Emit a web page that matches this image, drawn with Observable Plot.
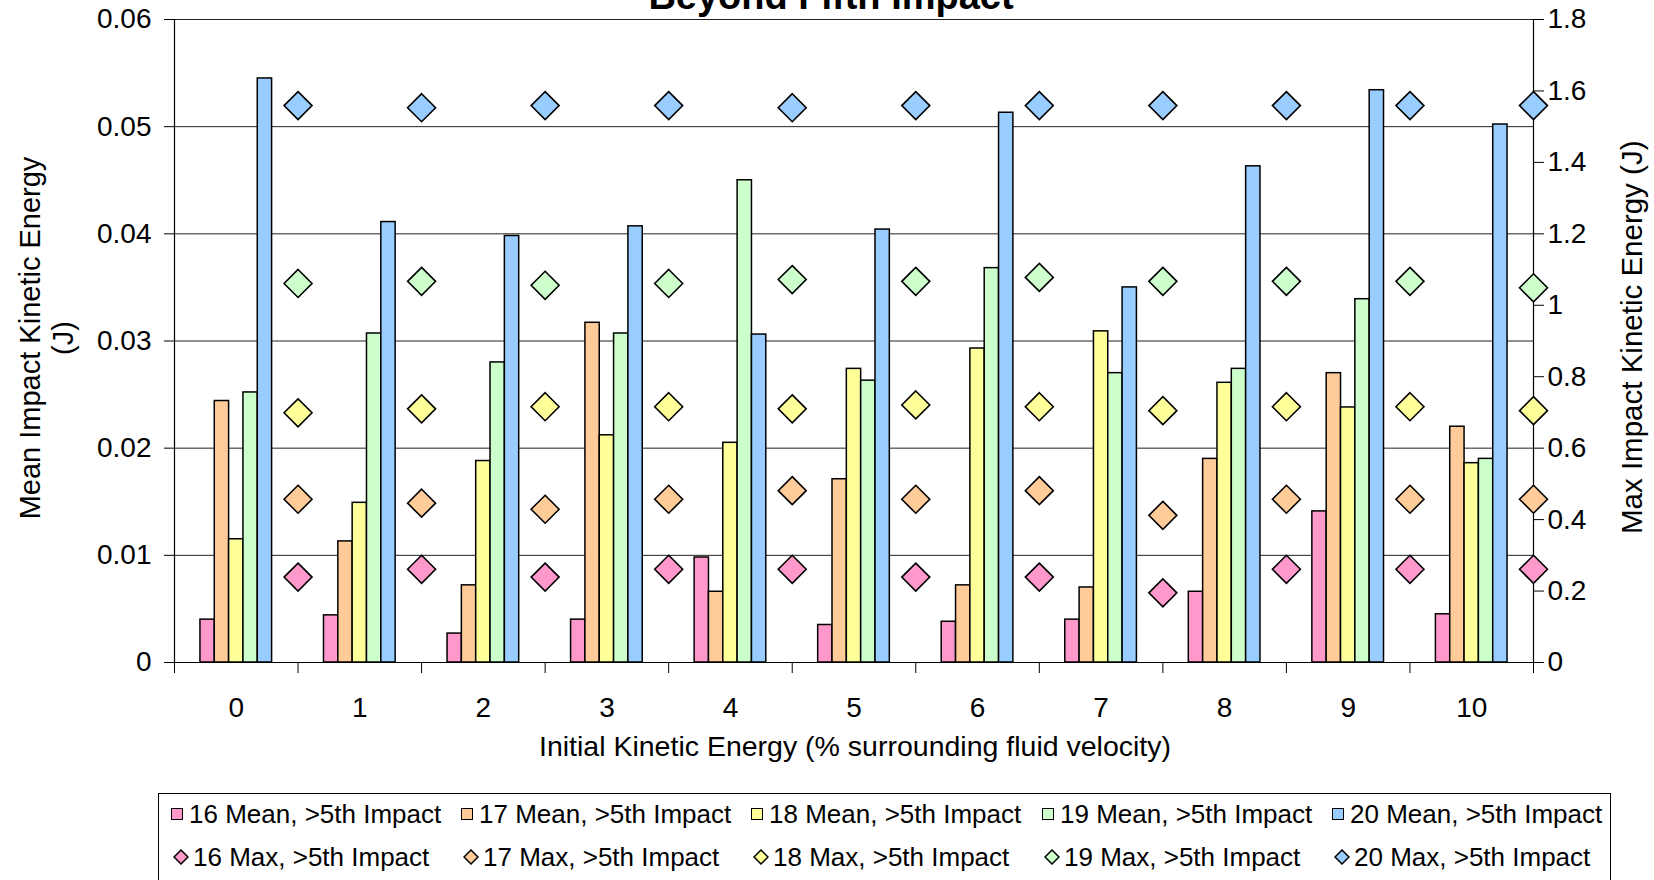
<!DOCTYPE html>
<html>
<head>
<meta charset="utf-8">
<script src="https://cdn.jsdelivr.net/npm/d3@7"></script>
<script src="https://cdn.jsdelivr.net/npm/@observablehq/plot@0.6"></script>
<style>
  html, body { margin: 0; padding: 0; background: #fff; overflow: hidden; }
  #wrap { position: relative; width: 1654px; height: 880px; font-family: "Liberation Sans", Arial, sans-serif; }
  #legend { position: absolute; left: 158px; top: 793px; width: 1453px; height: 100px; border: 1px solid #000; box-sizing: border-box; background: #fff; }
  .item { position: absolute; font-size: 26px; line-height: 26px; white-space: nowrap; display: flex; align-items: center; color: #000; }
  .sq { width: 10px; height: 10px; border: 1.5px solid #000; margin-right: 6px; }
  .dm { margin-right: 4px; }
</style>
</head>
<body>
<div id="wrap"><div id="chart"></div><div id="legend"></div></div>
<script>
// ---- data ----
const categories = [0, 1, 2, 3, 4, 5, 6, 7, 8, 9, 10];
const meanLabels = ["16 Mean, >5th Impact", "17 Mean, >5th Impact", "18 Mean, >5th Impact", "19 Mean, >5th Impact", "20 Mean, >5th Impact"];
const maxLabels = ["16 Max, >5th Impact", "17 Max, >5th Impact", "18 Max, >5th Impact", "19 Max, >5th Impact", "20 Max, >5th Impact"];
const colors = ["#FF99CC", "#FFCC99", "#FFFF99", "#CCFFCC", "#99CCFF"];

// Mean impact kinetic energy (J) - left axis
const mean16 = [0.0040, 0.0044, 0.0027, 0.0040, 0.0098, 0.0035, 0.0038, 0.0040, 0.0066, 0.0141, 0.0045];
const mean17 = [0.0244, 0.0113, 0.0072, 0.0317, 0.0066, 0.0171, 0.0072, 0.0070, 0.0190, 0.0270, 0.0220];
const mean18 = [0.0115, 0.0149, 0.0188, 0.0212, 0.0205, 0.0274, 0.0293, 0.0309, 0.0261, 0.0238, 0.0186];
const mean19 = [0.0252, 0.0307, 0.0280, 0.0307, 0.0450, 0.0263, 0.0368, 0.0270, 0.0274, 0.0339, 0.0190];
const mean20 = [0.0545, 0.0411, 0.0398, 0.0407, 0.0306, 0.0404, 0.0513, 0.0350, 0.0463, 0.0534, 0.0502];

// Max impact kinetic energy (J) - right axis
const max16 = [0.239, 0.261, 0.239, 0.261, 0.261, 0.239, 0.239, 0.195, 0.261, 0.261, 0.261];
const max17 = [0.457, 0.446, 0.429, 0.457, 0.481, 0.457, 0.481, 0.412, 0.457, 0.457, 0.457];
const max18 = [0.699, 0.710, 0.716, 0.716, 0.710, 0.721, 0.716, 0.705, 0.716, 0.716, 0.705];
const max19 = [1.061, 1.067, 1.056, 1.061, 1.072, 1.067, 1.078, 1.067, 1.067, 1.067, 1.049];
const max20 = [1.559, 1.553, 1.559, 1.559, 1.553, 1.559, 1.559, 1.559, 1.559, 1.559, 1.559];

const leftTicks = [0, 0.01, 0.02, 0.03, 0.04, 0.05, 0.06];
const rightTicks = [0, 0.2, 0.4, 0.6, 0.8, 1.0, 1.2, 1.4, 1.6, 1.8];

// ---- build ----
const meanSeries = [mean16, mean17, mean18, mean19, mean20];
const maxSeries = [max16, max17, max18, max19, max20];
const RATIO = 0.06 / 1.8; // left units per right unit
const G = 0.58, BW = G / 5;
const bounds = d3.range(categories.length + 1).map(i => i - 0.5);

const marks = [];
marks.push(Plot.ruleY(leftTicks.filter(d => d > 0), {stroke: "#222", strokeWidth: 1}));
meanSeries.forEach((vals, k) => {
  const rows = vals.map((v, i) => ({cat: categories[i], v}));
  marks.push(Plot.rectY(rows, {
    x1: d => d.cat - G / 2 + k * BW,
    x2: d => d.cat - G / 2 + (k + 1) * BW,
    y1: 0, y2: "v",
    fill: colors[k], stroke: "#000", strokeWidth: 1.5
  }));
});
marks.push(Plot.ruleY([0], {stroke: "#000", strokeWidth: 1.2}));
marks.push(Plot.ruleX([-0.5, 10.5], {y1: 0, y2: 0.06, stroke: "#000", strokeWidth: 1.2}));
maxSeries.forEach((vals, k) => {
  const rows = vals.map((v, i) => ({cat: categories[i], v}));
  marks.push(Plot.dot(rows, {
    x: d => d.cat + 0.5, y: d => d.v * RATIO,
    symbol: "diamond2", r: 12.6,
    fill: colors[k], stroke: "#000", strokeWidth: 1.6
  }));
});
marks.push(Plot.axisY({ticks: leftTicks, tickFormat: d => String(Math.round(d * 100) / 100), tickSize: 10, tickPadding: 13, label: null, fontSize: 28}));
marks.push(Plot.axisY({anchor: "right", ticks: rightTicks.map(v => v * RATIO), tickFormat: d => String(Math.round(d / RATIO * 10) / 10), tickSize: 10, tickPadding: 4, label: null, fontSize: 28}));
marks.push(Plot.axisX({ticks: categories, tickSize: 0, tickPadding: 35, label: null, fontSize: 28}));
marks.push(Plot.axisX({ticks: bounds, tickSize: 11, tickFormat: () => "", label: null}));

const chart = Plot.plot({
  width: 1654, height: 880,
  marginLeft: 174, marginRight: 121, marginTop: 19, marginBottom: 218,
  x: {type: "linear", domain: [-0.5, 10.5]},
  y: {domain: [0, 0.06]},
  style: {fontFamily: "'Liberation Sans', Arial, sans-serif", fontSize: "28px", color: "#000", background: "#fff", overflow: "visible"},
  marks
});
document.getElementById("chart").appendChild(chart);

const svg = d3.select(chart);
const ff = "'Liberation Sans', Arial, sans-serif";
svg.append("text").attr("x", 831).attr("y", 9).attr("text-anchor", "middle")
  .attr("font-family", ff).attr("font-size", 38).attr("font-weight", "bold").attr("fill", "#000")
  .text("Beyond Fifth Impact");
svg.append("text").attr("x", 855).attr("y", 746).attr("text-anchor", "middle").attr("dominant-baseline", "central")
  .attr("font-family", ff).attr("font-size", 28.5).attr("fill", "#000")
  .text("Initial Kinetic Energy (% surrounding fluid velocity)");
svg.append("text").attr("transform", "translate(30,338) rotate(-90)").attr("text-anchor", "middle").attr("dominant-baseline", "central")
  .attr("font-family", ff).attr("font-size", 29).attr("fill", "#000").text("Mean Impact Kinetic Energy");
svg.append("text").attr("transform", "translate(63,338) rotate(-90)").attr("text-anchor", "middle").attr("dominant-baseline", "central")
  .attr("font-family", ff).attr("font-size", 29).attr("fill", "#000").text("(J)");
svg.append("text").attr("transform", "translate(1631,534) rotate(-90)").attr("text-anchor", "start").attr("dominant-baseline", "central")
  .attr("font-family", ff).attr("font-size", 29.5).attr("fill", "#000").text("Max Impact Kinetic Energy (J)");

// ---- legend ----
const legend = document.getElementById("legend");
const colX = [12, 302, 592, 883, 1173];
meanLabels.forEach((lab, k) => {
  const it = document.createElement("div");
  it.className = "item";
  it.style.left = colX[k] + "px"; it.style.top = (20 - 13) + "px";
  it.innerHTML = `<span class="sq" style="background:${colors[k]}"></span><span>${lab.replace(">", "&gt;")}</span>`;
  legend.appendChild(it);
});
maxLabels.forEach((lab, k) => {
  const it = document.createElement("div");
  it.className = "item";
  it.style.left = (colX[k] + 2) + "px"; it.style.top = (63 - 13) + "px";
  it.innerHTML = `<svg class="dm" width="16" height="16" viewBox="-8 -8 16 16"><path d="M0,-7L7,0L0,7L-7,0Z" fill="${colors[k]}" stroke="#000" stroke-width="1.5"/></svg><span>${lab.replace(">", "&gt;")}</span>`;
  legend.appendChild(it);
});
</script>
</body>
</html>
